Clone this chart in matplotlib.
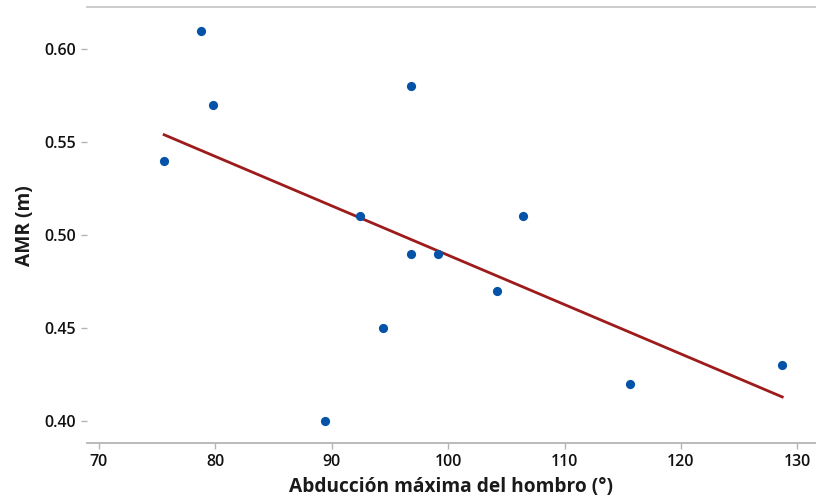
import numpy as np
import matplotlib.pyplot as plt

abduccion = [75.6, 78.8, 79.8, 89.4, 92.4, 94.4, 96.8, 96.8, 99.1, 104.2, 106.4, 115.6, 128.7]
amr = [0.54, 0.61, 0.57, 0.40, 0.51, 0.45, 0.58, 0.49, 0.49, 0.47, 0.51, 0.42, 0.43]
xticks = [70, 80, 90, 100, 110, 120, 130]
yticks = [0.40, 0.45, 0.50, 0.55, 0.60]

plt.rcParams['font.family'] = ['Open Sans', 'DejaVu Sans']

fig = plt.figure(figsize=(8.16, 5.0), dpi=100)
ax = fig.add_axes([0.1063, 0.1134, 0.8937, 0.8726])

# least squares fit over the data range
x = np.array(abduccion)
y = np.array(amr)
b, a = np.polyfit(x, y, 1)
xs = np.array([x.min(), x.max()])
ax.plot(xs, a + b * xs, color='#9e1b1b', lw=2.0, zorder=2)
ax.scatter(x, y, s=44, color='#0553a8', zorder=3, linewidths=0)

ax.set_xlim(68.95, 131.6)
ax.set_ylim(0.3878, 0.6228)
ax.set_xticks(xticks)
ax.set_yticks(yticks)
ax.set_yticklabels([f"{v:.2f}" for v in yticks])

for side in ['left', 'right']:
    ax.spines[side].set_visible(False)
ax.spines['top'].set_color('#c8c8c8')
ax.spines['bottom'].set_color('#b4b4b4')
ax.spines['top'].set_linewidth(1.3)
ax.spines['bottom'].set_linewidth(1.3)

ax.tick_params(axis='both', direction='out', length=4.5, width=1, color='#b4b4b4',
               labelsize=11.5, labelcolor='#111111', pad=3)
for lab in ax.get_xticklabels() + ax.get_yticklabels():
    lab.set_fontweight('semibold')

ax.set_xlabel('Abducción máxima del hombro (°)', fontsize=13.8, fontweight='bold',
              color='#1a1a1a', labelpad=5)
ax.set_ylabel('AMR (m)', fontsize=13.8, fontweight='bold', color='#1a1a1a', labelpad=7)

fig.savefig('out.png', dpi=100)
